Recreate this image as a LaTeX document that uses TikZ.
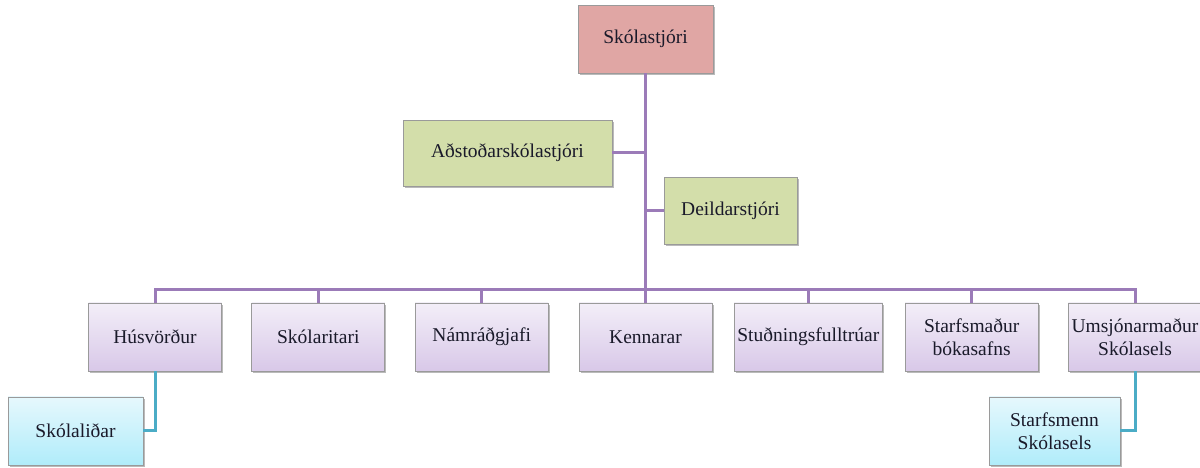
\documentclass[tikz,border=0pt]{standalone}
\usepackage{fontspec}
\setmainfont{Liberation Serif}
\usetikzlibrary{shadows,positioning}
\definecolor{redfill}{HTML}{E0A6A4}
\definecolor{greenfill}{HTML}{D3DEAA}
\definecolor{purptop}{HTML}{F3EEF8}
\definecolor{purpbot}{HTML}{D8C8E8}
\definecolor{cyantop}{HTML}{E6F8FD}
\definecolor{cyanbot}{HTML}{B0ECFA}
\definecolor{purpline}{HTML}{9B7BB8}
\definecolor{cyanline}{HTML}{4BACC6}
\definecolor{boxedge}{HTML}{9A9A9A}
\definecolor{txt}{HTML}{1A1A2A}
\tikzset{
  box/.style={draw=boxedge, line width=0.8pt, text=txt, align=center,
    font=\fontsize{19.5}{23}\selectfont,
    drop shadow={shadow xshift=1.5pt, shadow yshift=-1.8pt, opacity=0.45, fill=black!60}},
  redbox/.style={box, fill=redfill, minimum width=135pt, minimum height=68pt},
  greenbox/.style={box, fill=greenfill, minimum height=66pt},
  purpbox/.style={box, top color=purptop, bottom color=purpbot, minimum width=133pt, minimum height=68pt},
  cyanbox/.style={box, top color=cyantop, bottom color=cyanbot, minimum height=68pt},
  pline/.style={draw=purpline, line width=3pt},
  cline/.style={draw=cyanline, line width=3pt},
}
\begin{document}
\begin{tikzpicture}[x=1pt,y=1pt]
\useasboundingbox (0,0) rectangle (1200,468);
\coordinate (bus) at (645.5,178);
\node[redbox] (sk) at (645.5,429) {Skólastjóri};
\node[greenbox, minimum width=209pt] (ad) at (507.5,315) {Aðstoðarskólastjóri};
\node[greenbox, minimum width=133pt, minimum height=67pt] (de) at (730.5,257.5) {Deildarstjóri};
\node[purpbox] (hu) at (155,131) {Húsvörður};
\node[purpbox] (sr) at (318.3,131) {Skólaritari};
\node[purpbox] (nr) at (481.7,131) {Námráðgjafi};
\node[purpbox] (ke) at (645.5,131) {Kennarar};
\node[purpbox] (st) at (808.3,131) {Stuðningsfulltrúar};
\node[purpbox] (sb) at (971.7,131) {Starfsmaður\\bókasafns};
\node[purpbox] (um) at (1135,131) {Umsjónarmaður\\Skólasels};
\node[cyanbox, minimum width=135pt] (sl) at (75.5,37) {Skólaliðar};
\node[cyanbox, minimum width=131pt] (ss) at (1054.5,37) {Starfsmenn\\Skólasels};
\draw[pline] (sk.south) -- (bus);
\draw[pline] (ad.east) -- (ad.east -| sk.south);
\draw[pline] (de.west) -- (de.west -| sk.south);
\foreach \b in {hu,sr,nr,ke,st,sb,um}{\draw[pline] (bus) -| (\b.north);}
\draw[cline] (hu.south) |- (sl.east);
\draw[cline] (um.south) |- (ss.east);
\end{tikzpicture}
\end{document}
